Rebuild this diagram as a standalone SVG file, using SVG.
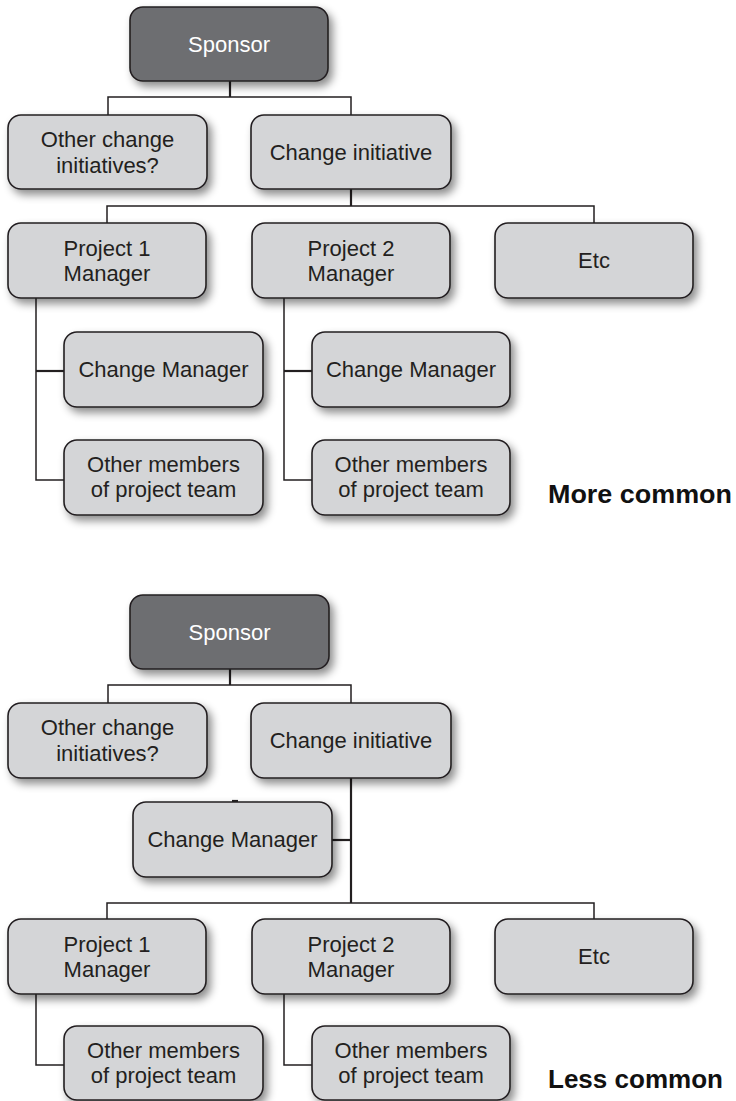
<svg xmlns="http://www.w3.org/2000/svg" width="736" height="1101" viewBox="0 0 736 1101">
  <defs>
    <filter id="shadow" x="-10%" y="-10%" width="130%" height="140%">
      <feDropShadow dx="4" dy="5" stdDeviation="4" flood-color="#000" flood-opacity="0.45"/>
    </filter>
  </defs>
  <style>
    .box { fill: #d4d5d7; stroke: #231f20; stroke-width: 1.6; filter: url(#shadow); }
    .dark { fill: #6d6e71; stroke: #231f20; stroke-width: 1.6; filter: url(#shadow); }
    .lbl { font-family: "Liberation Sans", Arial, sans-serif; font-size: 22px; fill: #231f20; text-anchor: middle; }
    .lbl-w { font-family: "Liberation Sans", Arial, sans-serif; font-size: 22px; fill: #ffffff; text-anchor: middle; }
    .note { font-family: "Liberation Sans", Arial, sans-serif; font-size: 25px; font-weight: bold; fill: #111111; }
    .ln { stroke: #231f20; stroke-width: 1.5; fill: none; }
    .ln-b { stroke: #231f20; stroke-width: 2.2; fill: none; }
  </style>

  <!-- connectors -->
  <g id="connectors">
    <!-- upper chart -->
    <path class="ln-b" d="M230 81 V97"/>
    <path class="ln" d="M108 115 V97 H351 V115"/>
    <path class="ln-b" d="M351 189 V206"/>
    <path class="ln" d="M107 223 V206 H594 V223"/>
    <path class="ln" d="M36 298 V480 H64"/>
    <path class="ln-b" d="M36 371 H64"/>
    <path class="ln" d="M284 298 V480 H312"/>
    <path class="ln-b" d="M284 371 H312"/>
    <!-- lower chart -->
    <path class="ln-b" d="M230 669 V685"/>
    <path class="ln" d="M108 703 V685 H351 V703"/>
    <path class="ln-b" d="M351 778 V903"/>
    <path class="ln-b" d="M332 840 H351"/>
    <path class="ln-b" d="M232 801 H238"/>
    <path class="ln" d="M107 919 V903 H594 V919"/>
    <path class="ln" d="M36 994 V1065 H64"/>
    <path class="ln" d="M284 994 V1065 H312"/>
  </g>

  <!-- upper chart: more common -->
  <g id="sponsor-a">
    <rect class="dark" x="130" y="7" width="198" height="74" rx="13"/>
    <text class="lbl-w" x="229" y="52">Sponsor</text>
  </g>
  <g id="other-initiatives-a">
    <rect class="box" x="8" y="115" width="199" height="74" rx="13"/>
    <text class="lbl" x="107.5" y="147">Other change</text>
    <text class="lbl" x="107.5" y="173">initiatives?</text>
  </g>
  <g id="change-initiative-a">
    <rect class="box" x="251" y="115" width="200" height="74" rx="13"/>
    <text class="lbl" x="351" y="160">Change initiative</text>
  </g>
  <g id="project1-a">
    <rect class="box" x="8" y="223" width="198" height="75" rx="13"/>
    <text class="lbl" x="107" y="256">Project 1</text>
    <text class="lbl" x="107" y="281">Manager</text>
  </g>
  <g id="project2-a">
    <rect class="box" x="252" y="223" width="198" height="75" rx="13"/>
    <text class="lbl" x="351" y="256">Project 2</text>
    <text class="lbl" x="351" y="281">Manager</text>
  </g>
  <g id="etc-a">
    <rect class="box" x="495" y="223" width="198" height="75" rx="13"/>
    <text class="lbl" x="594" y="268">Etc</text>
  </g>
  <g id="change-manager-a1">
    <rect class="box" x="64" y="332" width="199" height="75" rx="13"/>
    <text class="lbl" x="163.5" y="377">Change Manager</text>
  </g>
  <g id="team-a1">
    <rect class="box" x="64" y="440" width="199" height="75" rx="13"/>
    <text class="lbl" x="163.5" y="472">Other members</text>
    <text class="lbl" x="163.5" y="497">of project team</text>
  </g>
  <g id="change-manager-a2">
    <rect class="box" x="312" y="332" width="198" height="75" rx="13"/>
    <text class="lbl" x="411" y="377">Change Manager</text>
  </g>
  <g id="team-a2">
    <rect class="box" x="312" y="440" width="198" height="75" rx="13"/>
    <text class="lbl" x="411" y="472">Other members</text>
    <text class="lbl" x="411" y="497">of project team</text>
  </g>
  <text class="note" x="548" y="503" textLength="184" lengthAdjust="spacingAndGlyphs">More common</text>

  <!-- lower chart: less common -->
  <g id="sponsor-b">
    <rect class="dark" x="130" y="595" width="199" height="74" rx="13"/>
    <text class="lbl-w" x="229.5" y="640">Sponsor</text>
  </g>
  <g id="other-initiatives-b">
    <rect class="box" x="8" y="703" width="199" height="75" rx="13"/>
    <text class="lbl" x="107.5" y="735">Other change</text>
    <text class="lbl" x="107.5" y="761">initiatives?</text>
  </g>
  <g id="change-initiative-b">
    <rect class="box" x="251" y="703" width="200" height="75" rx="13"/>
    <text class="lbl" x="351" y="748">Change initiative</text>
  </g>
  <g id="change-manager-b">
    <rect class="box" x="133" y="802" width="199" height="75" rx="13"/>
    <text class="lbl" x="232.5" y="847">Change Manager</text>
  </g>
  <g id="project1-b">
    <rect class="box" x="8" y="919" width="198" height="75" rx="13"/>
    <text class="lbl" x="107" y="952">Project 1</text>
    <text class="lbl" x="107" y="977">Manager</text>
  </g>
  <g id="project2-b">
    <rect class="box" x="252" y="919" width="198" height="75" rx="13"/>
    <text class="lbl" x="351" y="952">Project 2</text>
    <text class="lbl" x="351" y="977">Manager</text>
  </g>
  <g id="etc-b">
    <rect class="box" x="495" y="919" width="198" height="75" rx="13"/>
    <text class="lbl" x="594" y="964">Etc</text>
  </g>
  <g id="team-b1">
    <rect class="box" x="64" y="1026" width="199" height="74" rx="13"/>
    <text class="lbl" x="163.5" y="1058">Other members</text>
    <text class="lbl" x="163.5" y="1083">of project team</text>
  </g>
  <g id="team-b2">
    <rect class="box" x="312" y="1026" width="198" height="74" rx="13"/>
    <text class="lbl" x="411" y="1058">Other members</text>
    <text class="lbl" x="411" y="1083">of project team</text>
  </g>
  <text class="note" x="548" y="1088" textLength="175" lengthAdjust="spacingAndGlyphs">Less common</text>
</svg>
